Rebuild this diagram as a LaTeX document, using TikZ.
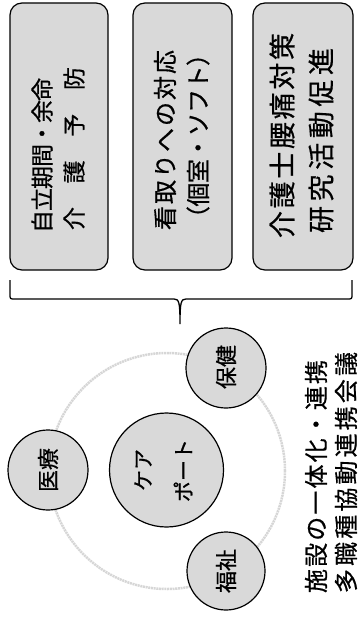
\documentclass[tikz,border=0pt]{standalone}
\usepackage{fontspec}
\setmainfont{Noto Sans CJK JP}[FakeBold=0.6]
\newcommand\spr[2]{\makebox[#1][s]{\sprA#2\relax}}
\def\sprA#1{\ifx\relax#1\else #1\expandafter\sprB\fi}
\def\sprB#1{\ifx\relax#1\else\hskip 0pt plus 1fil minus 1fil #1\expandafter\sprB\fi}
\tikzset{
  box/.style={draw, line width=1.2pt, fill=black!15, rounded corners=12pt,
    minimum height=267pt, inner sep=0pt},
  disc/.style={draw, circle, line width=1.2pt, fill=black!15, inner sep=0pt},
  ring/.style={draw=black!16, circle, line width=2.5pt, inner sep=0pt, dash pattern=on 2pt off 0.7pt},
  vt/.style={rotate=90, inner sep=0pt, font=\fontsize{#1}{#1}\selectfont},
  bracepath/.style={draw, line width=1.3pt},
}
\begin{document}
\begin{tikzpicture}[x=1pt,y=-1pt]
\useasboundingbox (0,0) rectangle (361,617);
% boxes
\node[box, minimum width=98pt] (b1) at (59,136.5) {};
\node[box, minimum width=99pt] (b2) at (182.5,136.5) {};
\node[box, minimum width=100pt] (b3) at (303,136.5) {};
% box texts
\node[vt=23] (b1a) at (42,155.5) {\spr{155pt}{自立期間・余命}};
\node[vt=23] (b1b) at (74,148.5) {\spr{163pt}{介護予防}};
\node[vt=24] (b2a) at (165,140) {\spr{180pt}{看取りへの対応}};
\node[vt=24] (b2b) at (198,136) {\spr{188pt}{（個室・ソフト）}};
\node[vt=27] (b3a) at (282,135.5) {\spr{205pt}{介護士腰痛対策}};
\node[vt=27] (b3b) at (321,140.5) {\spr{185pt}{研究活動促進}};
% brace
\coordinate (brL) at (10,280);
\coordinate (brR) at (352,280);
\coordinate (brT) at (180,324);
\path[bracepath] (brL) -- (10,294) .. controls (10,299) .. (15,299) -- (174,299)
  .. controls (179,299) and (180,302) .. (brT)
  .. controls (180,302) and (181,299) .. (186,299) -- (347,299)
  .. controls (352,299) .. (352,294) -- (brR);
% ring and circles
\node[ring, minimum size=236pt] (ring) at (167,471) {};
\node[disc, minimum size=80pt] (iryo) at (48,470) {};
\node[disc, minimum size=80pt] (hoken) at (226,368) {};
\node[disc, minimum size=78pt] (fukushi) at (226,571) {};
\node[disc, minimum size=114pt] (care) at (166.5,470) {};
\node[vt=22] (iryoT) at (48,470) {医療};
\node[vt=22] (hokenT) at (226,367) {保健};
\node[vt=22] (fukushiT) at (226,571) {福祉};
\node[vt=21] (careA) at (143,470) {ケア};
\node[vt=21] (careB) at (183,470.5) {ポート};
% right texts
\node[vt=24] (r1) at (316,476.5) {\spr{233pt}{施設の一体化・連携}};
\node[vt=24] (r2) at (346,472.5) {\spr{241pt}{多職種協動連携会議}};
\end{tikzpicture}
\end{document}
